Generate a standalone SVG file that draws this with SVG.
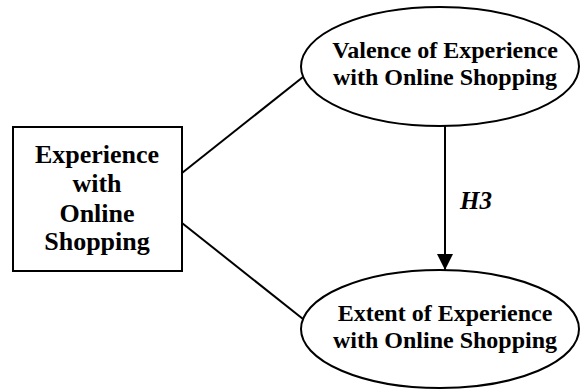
<svg xmlns="http://www.w3.org/2000/svg" width="580" height="389" viewBox="0 0 580 389">
<style>
.shape{fill:#fff;stroke:#000;stroke-width:2}
.t{font-family:"Liberation Serif","Times New Roman",serif;font-weight:bold;text-anchor:middle;fill:#000}
.c{stroke:#000;stroke-width:2;fill:none}
</style>
<defs>
<marker id="ah" markerWidth="16" markerHeight="16" refX="16" refY="8" orient="auto" markerUnits="userSpaceOnUse" viewBox="0 0 16 16">
<path d="M0,0 L16,8 L0,16 Z" fill="#000"/>
</marker>
</defs>
<rect width="580" height="389" fill="#fff"/>
<g id="connectors">
<line class="c" x1="182" y1="173" x2="303" y2="77"/>
<line class="c" x1="182" y1="223" x2="303" y2="319"/>
<line class="c" x1="445" y1="126" x2="445" y2="270" marker-end="url(#ah)"/>
<text x="460" y="209" class="t" style="text-anchor:start;font-style:italic;font-size:25px">H3</text>
</g>
<g id="experience">
<rect class="shape" x="13" y="127" width="169" height="144"/>
<text class="t" font-size="26" x="97" y="163">Experience</text>
<text class="t" font-size="26" x="97" y="192">with</text>
<text class="t" font-size="26" x="97" y="222">Online</text>
<text class="t" font-size="26" x="97" y="250">Shopping</text>
</g>
<g id="valence">
<ellipse class="shape" cx="440" cy="66.5" rx="139" ry="59.5"/>
<text class="t" font-size="24" x="445" y="58">Valence of Experience</text>
<text class="t" font-size="24" x="445" y="85">with Online Shopping</text>
</g>
<g id="extent">
<ellipse class="shape" cx="440" cy="329" rx="139" ry="59"/>
<text class="t" font-size="24" x="445" y="321">Extent of Experience</text>
<text class="t" font-size="24" x="445" y="348">with Online Shopping</text>
</g>
</svg>
